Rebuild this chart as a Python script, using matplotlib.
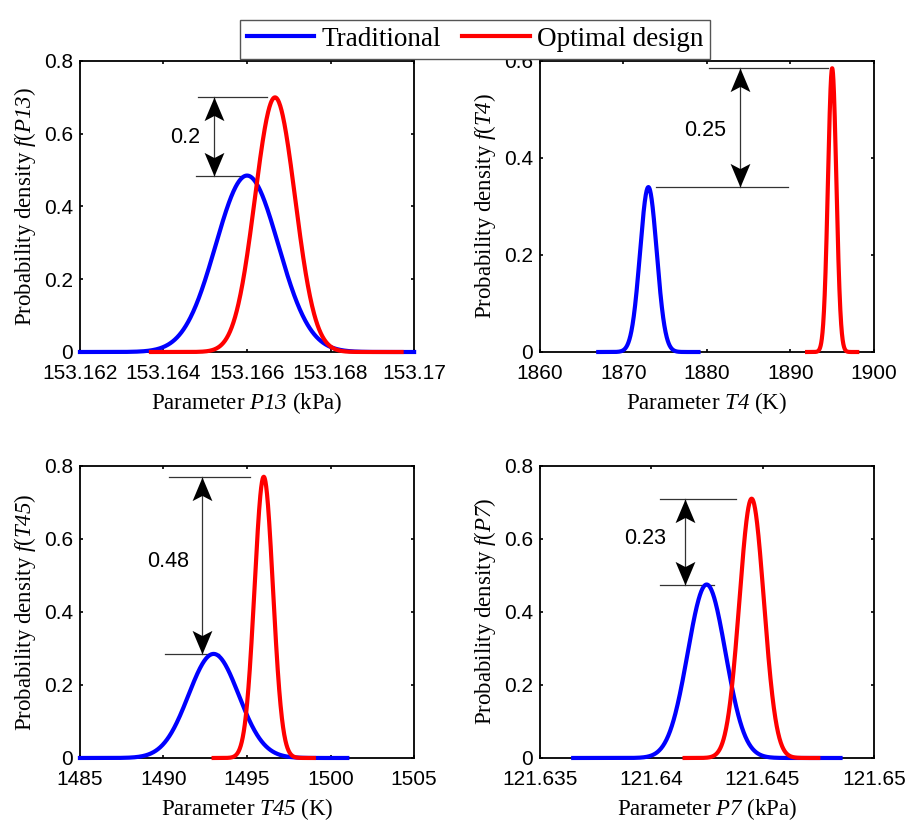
import matplotlib
matplotlib.use('Agg')
import matplotlib.pyplot as plt
from matplotlib.path import Path
from matplotlib.ticker import FuncFormatter
import numpy as np

plt.rcParams['font.family'] = 'Liberation Sans'
plt.rcParams['mathtext.fontset'] = 'custom'
plt.rcParams['mathtext.rm'] = 'Liberation Serif'
plt.rcParams['mathtext.it'] = 'Liberation Serif:italic'
# italic serif for symbol names, digits included
plt.rcParams['mathtext.bf'] = 'Liberation Serif:italic'

# density curves: centre, spread, peak height, x-range drawn
params = ['P13', 'T4', 'T45', 'P7']
units = ['kPa', 'K', 'K', 'kPa']
xlims = [(153.162, 153.170), (1860, 1900), (1485, 1505), (121.635, 121.650)]
ylims = [(0, 0.8), (0, 0.6), (0, 0.8), (0, 0.8)]
xticks = [[153.162, 153.164, 153.166, 153.168, 153.170],
          [1860, 1870, 1880, 1890, 1900],
          [1485, 1490, 1495, 1500, 1505],
          [121.635, 121.640, 121.645, 121.650]]
yticks = [[0, 0.2, 0.4, 0.6, 0.8],
          [0, 0.2, 0.4, 0.6],
          [0, 0.2, 0.4, 0.6, 0.8],
          [0, 0.2, 0.4, 0.6, 0.8]]

trad_mu = [153.16600, 1873.0, 1493.0, 121.64249]
trad_sigma = [0.00075, 1.0, 1.5, 0.00085]
trad_peak = [0.485, 0.34, 0.285, 0.475]
trad_range = [(153.162, 153.170), (1867, 1879), (1485, 1501), (121.6365, 121.6485)]

opt_mu = [153.16667, 1895.0, 1496.0, 121.64451]
opt_sigma = [0.00048, 0.5, 0.55, 0.00055]
opt_peak = [0.70, 0.585, 0.77, 0.71]
opt_range = [(153.1637, 153.1697), (1892, 1898), (1493, 1499), (121.6415, 121.6475)]

# peak-difference annotations
diff_labels = ['0.2', '0.25', '0.48', '0.23']
arrow_x = [153.16521, 1884.0, 1492.3, 121.64154]
upper_line = [(153.16483, 153.16647), (1880.2, 1894.5), (1490.3, 1495.2), (121.6404, 121.6438)]
lower_line = [(153.16479, 153.16607), (1873.9, 1889.7), (1490.1, 1493.3), (121.6404, 121.6428)]
label_xy = [(153.16451, 0.59), (1879.8, 0.457), (1490.3, 0.537), (121.63975, 0.601)]

positions = [[0.0871, 0.5723, 0.364, 0.3536], [0.588, 0.5723, 0.364, 0.3536],
             [0.0871, 0.079, 0.364, 0.355], [0.588, 0.079, 0.364, 0.355]]

# notched arrowhead, tip at origin, pointing up
head_up = Path([(0, 0), (0.42, -1.0), (0, -0.78), (-0.42, -1.0), (0, 0)],
               [Path.MOVETO, Path.LINETO, Path.LINETO, Path.LINETO, Path.CLOSEPOLY])
head_down = Path([(0, 0), (0.42, 1.0), (0, 0.78), (-0.42, 1.0), (0, 0)],
                 [Path.MOVETO, Path.LINETO, Path.LINETO, Path.LINETO, Path.CLOSEPOLY])


def gauss(x, mu, sigma, peak):
    return peak * np.exp(-0.5 * ((x - mu) / sigma) ** 2)


fig = plt.figure(figsize=(9.18, 8.23), dpi=100)
fmt = FuncFormatter(lambda v, p: '%g' % round(v, 6))

for i in range(4):
    ax = fig.add_axes(positions[i])
    x1 = np.linspace(trad_range[i][0], trad_range[i][1], 600)
    x2 = np.linspace(opt_range[i][0], opt_range[i][1], 600)
    l1, = ax.plot(x1, gauss(x1, trad_mu[i], trad_sigma[i], trad_peak[i]),
                  color='#0000ff', lw=3, clip_on=False, zorder=3)
    l2, = ax.plot(x2, gauss(x2, opt_mu[i], opt_sigma[i], opt_peak[i]),
                  color='#ff0000', lw=3, clip_on=False, zorder=4)

    top = opt_peak[i]
    bot = trad_peak[i]
    ax.plot(upper_line[i], [top, top], color='#333333', lw=0.9, zorder=2)
    ax.plot(lower_line[i], [bot, bot], color='#333333', lw=0.9, zorder=2)
    ax.plot([arrow_x[i], arrow_x[i]], [bot, top], color='#333333', lw=0.9, zorder=2)
    ax.plot(arrow_x[i], top, marker=head_up, ms=34, color='black', mec='none', zorder=5)
    ax.plot(arrow_x[i], bot, marker=head_down, ms=34, color='black', mec='none', zorder=5)
    ax.text(label_xy[i][0], label_xy[i][1], diff_labels[i], fontsize=15.5,
            ha='center', va='center')

    ax.set_xlim(xlims[i])
    ax.set_ylim(ylims[i])
    ax.set_xticks(xticks[i])
    ax.set_yticks(yticks[i])
    ax.xaxis.set_major_formatter(fmt)
    ax.yaxis.set_major_formatter(fmt)
    ax.tick_params(direction='in', top=True, right=True, length=2.5, width=1.2,
                   labelsize=15)
    ax.tick_params(axis='x', pad=9)
    ax.tick_params(axis='y', pad=5)
    for s in ax.spines.values():
        s.set_linewidth(1.3)
    ax.set_xlabel(r'Parameter $\mathbf{%s}$ (%s)' % (params[i], units[i]),
                  family='Liberation Serif', fontsize=16.5, labelpad=5)
    ax.set_ylabel(r'Probability density $\mathbf{f}$($\mathbf{%s}$)' % params[i],
                  family='Liberation Serif', fontsize=16.5, labelpad=4)

leg = fig.legend([l1, l2], ['Traditional', 'Optimal design'], loc='upper center',
                 bbox_to_anchor=(0.5174, 0.992), ncol=2, fancybox=False,
                 prop={'family': 'Liberation Serif', 'size': 19.5},
                 handlelength=2.5, handletextpad=0.25, columnspacing=0.8,
                 borderpad=0.25, edgecolor='#555555', framealpha=1)
leg.get_frame().set_linewidth(1.0)

fig.savefig('out.png', dpi=100)
